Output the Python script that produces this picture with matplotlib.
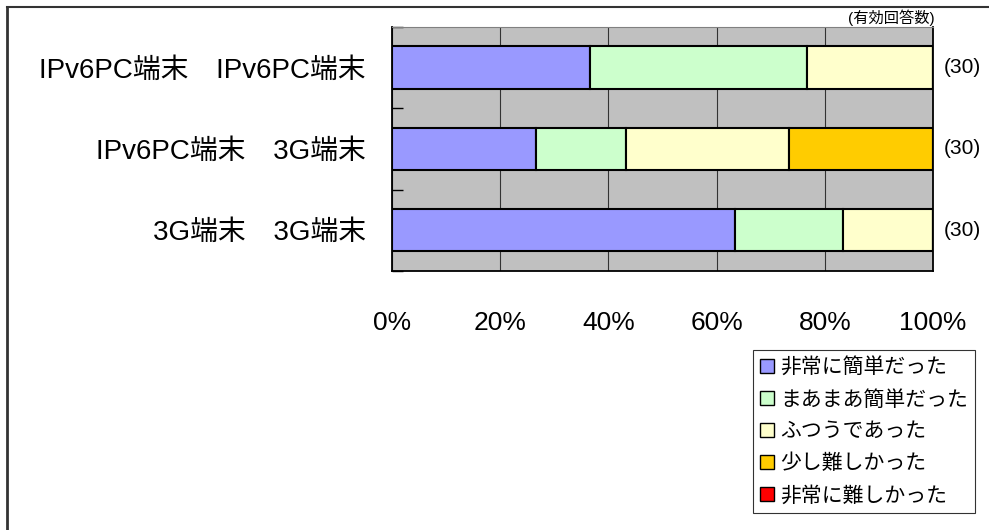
import matplotlib
matplotlib.use("Agg")
import matplotlib.pyplot as plt
from matplotlib.patches import Patch
from matplotlib.lines import Line2D
import numpy as np

plt.rcParams['font.family'] = ['Liberation Sans', 'Noto Sans CJK JP', 'DejaVu Sans']

# Data (counts out of 30 responses each)
categories = ["IPv6PC端末　IPv6PC端末", "IPv6PC端末　3G端末", "3G端末　3G端末"]
series_names = ["非常に簡単だった", "まあまあ簡単だった", "ふつうであった", "少し難しかった", "非常に難しかった"]
counts = {
    "非常に簡単だった": [11, 8, 19],
    "まあまあ簡単だった": [12, 5, 6],
    "ふつうであった": [7, 9, 5],
    "少し難しかった": [0, 8, 0],
    "非常に難しかった": [0, 0, 0],
}
n_resp = [30, 30, 30]
colors = ["#9999FF", "#CCFFCC", "#FFFFCC", "#FFCC00", "#FF0000"]
xticklabels = ["0%", "20%", "40%", "60%", "80%", "100%"]

fig = plt.figure(figsize=(9.89, 5.30), dpi=100)
ax = fig.add_axes([0.3964, 0.4887, 0.547, 0.4604])
ax.set_facecolor("#C0C0C0")

y = np.arange(len(categories))
left = np.zeros(len(categories))
for name, col in zip(series_names, colors):
    vals = np.array(counts[name]) / np.array(n_resp) * 100
    ax.barh(y, vals, left=left, height=0.52, color=col, edgecolor="black",
            linewidth=1.5, zorder=3)
    left += vals

ax.set_xlim(0, 100)
ax.set_ylim(len(categories) - 0.5, -0.5)
ax.set_xticks(np.arange(0, 101, 20))
ax.set_xticklabels(xticklabels, fontsize=19)
ax.tick_params(axis="x", length=0, pad=29)
ax.set_yticks(y)
ax.set_yticklabels(categories, fontsize=20)
ax.tick_params(axis="y", which="major", length=0, pad=19)
ax.set_yticks(np.arange(-0.5, len(categories), 1), minor=True)
ax.tick_params(axis="y", which="minor", direction="in", length=8, width=1, color="black")
ax.grid(axis="x", color="#333333", linewidth=0.8, zorder=1)
ax.set_axisbelow(True)
for s in ["left", "bottom", "right"]:
    ax.spines[s].set_color("black")
    ax.spines[s].set_linewidth(1.3)
ax.spines["top"].set_color("#808080")

for yi, n in zip(y, n_resp):
    ax.text(1.02, yi, f"({n})", transform=ax.get_yaxis_transform(),
            va="center", ha="left", fontsize=15)
fig.text(935 / 989, 1 - 18 / 530, "(有効回答数)", ha="right", va="center", fontsize=11)

handles = [Patch(facecolor=c, edgecolor="black", linewidth=1) for c in colors]
leg = fig.legend(handles, series_names, loc="upper left",
                 bbox_to_anchor=(753 / 989, 1 - 350 / 530), fontsize=15,
                 frameon=True, fancybox=False, edgecolor="black",
                 handlelength=0.65, handleheight=0.65, handletextpad=0.3,
                 labelspacing=0.6, borderpad=0.35, borderaxespad=0)
leg.get_frame().set_linewidth(0.8)

# outer frame (left and top edges visible)
fig.add_artist(Line2D([6.5 / 989, 6.5 / 989], [0, 1 - 7 / 530], color="#333333",
                      linewidth=2, transform=fig.transFigure))
fig.add_artist(Line2D([6.5 / 989, 1], [1 - 7 / 530, 1 - 7 / 530], color="#333333",
                      linewidth=1.5, transform=fig.transFigure))

fig.savefig("out.png", dpi=100, facecolor="white")
